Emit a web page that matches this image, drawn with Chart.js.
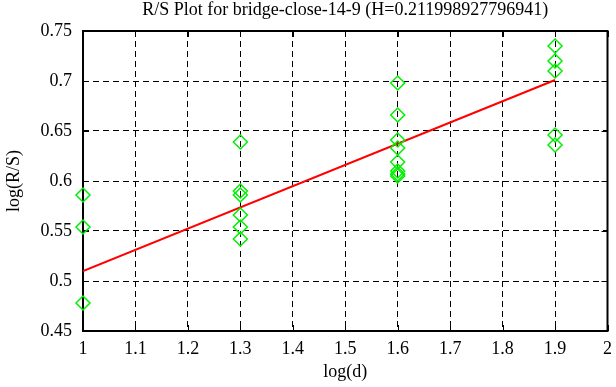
<!DOCTYPE html>
<html>
<head>
<meta charset="utf-8">
<script src="https://cdn.jsdelivr.net/npm/chart.js@4"></script>
<style>
  body { margin: 0; background: #fff; }
  #wrap { width: 616px; height: 387px; }
</style>
</head>
<body>
<div id="wrap"><canvas id="rs"></canvas></div>
<script>
// R/S points, one row per log(d) value
const logD = [1, 1.3, 1.6, 1.9];
const logRS = [
  [0.586, 0.554, 0.478],
  [0.639, 0.590, 0.586, 0.566, 0.554, 0.542],
  [0.698, 0.666, 0.641, 0.633, 0.619, 0.610, 0.607, 0.605],
  [0.735, 0.720, 0.710, 0.646, 0.636]
];
// fitted line
const fitX = [1, 1.9];
const fitY = [0.510, 0.701];

const xTicks = [1, 1.1, 1.2, 1.3, 1.4, 1.5, 1.6, 1.7, 1.8, 1.9, 2];
const yTicks = [0.45, 0.5, 0.55, 0.6, 0.65, 0.7, 0.75];
const titleText = 'R/S Plot for bridge-close-14-9 (H=0.211998927796941)';

let pts = [];
logD.forEach((d, i) => {
  logRS[i].forEach(v => pts.push({x: d, y: v}));
});

const serif = "'Liberation Serif', 'Times New Roman', serif";
const fsize = 18;

// frame, inward ticks and the title like gnuplot
const framePlugin = {
  id: 'frame',
  beforeDatasetsDraw(chart) {
    const c = chart.ctx, a = chart.chartArea;
    const xs = chart.scales.x, ys = chart.scales.y;
    c.save();
    c.strokeStyle = '#000';
    c.lineWidth = 1;
    c.beginPath();
    xTicks.forEach(t => {
      let px = Math.round(xs.getPixelForValue(t)) + 0.5;
      c.moveTo(px, a.bottom); c.lineTo(px, a.bottom - 6);
      c.moveTo(px, a.top); c.lineTo(px, a.top + 6);
    });
    yTicks.forEach(t => {
      let py = Math.round(ys.getPixelForValue(t)) + 0.5;
      c.moveTo(a.left, py); c.lineTo(a.left + 6, py);
      c.moveTo(a.right, py); c.lineTo(a.right - 6, py);
    });
    c.stroke();
    c.lineWidth = 2;
    c.strokeRect(a.left, a.top, a.right - a.left, a.bottom - a.top);
    c.restore();
  },
  afterDraw(chart) {
    const c = chart.ctx, a = chart.chartArea;
    c.save();
    c.fillStyle = '#000';
    c.font = fsize + 'px ' + serif;
    c.textAlign = 'center';
    c.textBaseline = 'middle';
    c.fillText(titleText, (a.left + a.right) / 2, 10);
    c.restore();
  }
};

new Chart(document.getElementById('rs'), {
  type: 'scatter',
  data: {
    datasets: [
      {
        label: 'R/S',
        data: pts,
        clip: false,
        pointStyle: 'rectRot',
        pointRadius: 7,
        pointBorderWidth: 1.5,
        pointBorderColor: '#00f000',
        pointBackgroundColor: 'rgba(0,0,0,0)',
        showLine: false
      },
      {
        label: 'fit',
        data: fitX.map((x, i) => ({x: x, y: fitY[i]})),
        showLine: true,
        borderColor: '#ff0000',
        borderWidth: 2,
        pointRadius: 0
      }
    ]
  },
  options: {
    responsive: true,
    maintainAspectRatio: false,
    animation: false,
    layout: { padding: { top: 31, right: 7, left: 0, bottom: 0 } },
    plugins: { legend: { display: false }, tooltip: { enabled: false } },
    scales: {
      x: {
        type: 'linear',
        min: 1, max: 2,
        afterBuildTicks: s => { s.ticks = xTicks.map(v => ({value: v})); },
        afterFit: s => { s.height = 56; s.paddingLeft = 0; s.paddingRight = 0; },
        border: { display: false, dash: [6, 4] },
        grid: {
          color: ctx => (ctx.tick && (ctx.tick.value === 1 || ctx.tick.value === 2)) ? 'rgba(0,0,0,0)' : '#000',
          lineWidth: 1,
          drawTicks: false
        },
        ticks: {
          color: '#000',
          font: { family: serif, size: fsize },
          padding: 7,
          maxRotation: 0,
          callback: v => String(v)
        },
        title: {
          display: true,
          text: 'log(d)',
          color: '#000',
          font: { family: serif, size: fsize },
          padding: { top: 0, bottom: 4 }
        }
      },
      y: {
        type: 'linear',
        min: 0.45, max: 0.75,
        afterBuildTicks: s => { s.ticks = yTicks.map(v => ({value: v})); },
        afterFit: s => { s.width = 83; s.paddingTop = 0; s.paddingBottom = 0; },
        border: { display: false, dash: [6, 4] },
        grid: {
          color: ctx => (ctx.tick && (ctx.tick.value === 0.45 || ctx.tick.value === 0.75)) ? 'rgba(0,0,0,0)' : '#000',
          lineWidth: 1,
          drawTicks: false
        },
        ticks: {
          color: '#000',
          font: { family: serif, size: fsize },
          padding: 11,
          callback: v => String(v)
        },
        title: {
          display: true,
          text: 'log(R/S)',
          color: '#000',
          font: { family: serif, size: fsize },
          padding: { top: 3, bottom: 0 }
        }
      }
    }
  },
  plugins: [framePlugin]
});
</script>
</body>
</html>
